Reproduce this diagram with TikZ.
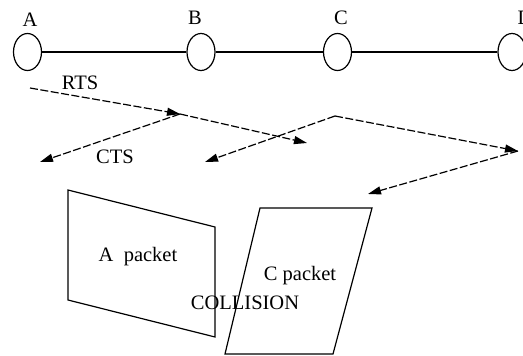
\documentclass[tikz,border=0pt]{standalone}
\usepackage{fontspec}
\setmainfont{Liberation Serif}
\usetikzlibrary{shapes,arrows.meta,positioning}

\begin{document}
\begin{tikzpicture}[x=1pt,y=-1pt]
    \tikzstyle{station}=[ellipse,draw,line width=1.2pt,minimum width=28pt,minimum height=37pt,inner sep=0pt]
    \tikzstyle{txt}=[font=\fontsize{20.5}{24}\selectfont,inner sep=0pt]
    \tikzstyle{every edge}=[draw]
    \tikzstyle{signal}=[line width=1.2pt,dash pattern=on 8pt off 2.5pt,-{Triangle[length=13pt,width=8pt]}]
    \tikzstyle{packet}=[line width=1.2pt]

    \useasboundingbox (0,0) rectangle (523,356);

    % stations on the line
    \node[station] (a) at (27.5,52) {};
    \node[station] (b) at (201,52) {};
    \node[station] (c) at (337.5,52) {};
    \node[station] (d) at (512,52) {};

    \node[txt] (la) at (30,20) {A};
    \node[txt] (lb) at (195,18) {B};
    \node[txt] (lc) at (341,18) {C};
    \node[txt] (ld) at (525,18) {D};

    \path[line width=1.2pt] (a) edge (b) (b) edge (c) (c) edge (d);

    % RTS / CTS exchange
    \coordinate (rtsA) at (30,88);
    \coordinate (atB) at (180,114);
    \coordinate (rtsEnd) at (307,143);
    \coordinate (ctsEnd) at (40,162);
    \coordinate (fromC) at (335,116);
    \coordinate (ctsC) at (205,162);
    \coordinate (atD) at (518,151);
    \coordinate (ctsD) at (368,194);

    \path[signal] (rtsA) edge (atB) (atB) edge (rtsEnd) (atB) edge (ctsEnd);
    \path[signal] (fromC) edge (ctsC) (fromC) edge (atD) (atD) edge (ctsD);

    \node[txt] (rts) at (80,83) {RTS};
    \node[txt] (cts) at (115,157) {CTS};

    % packets
    \draw[packet] (68,190) -- (215,227) -- (215,337) -- (68,300) -- cycle;
    \draw[packet] (260,208) -- (372,208) -- (333,354) -- (225,354) -- cycle;

    \node[txt] (pa) at (138,257) {A~ packet};
    \node[txt] (pc) at (300,276) {C packet};
    \node[txt] (coll) at (245,303) {COLLISION};
\end{tikzpicture}
\end{document}
